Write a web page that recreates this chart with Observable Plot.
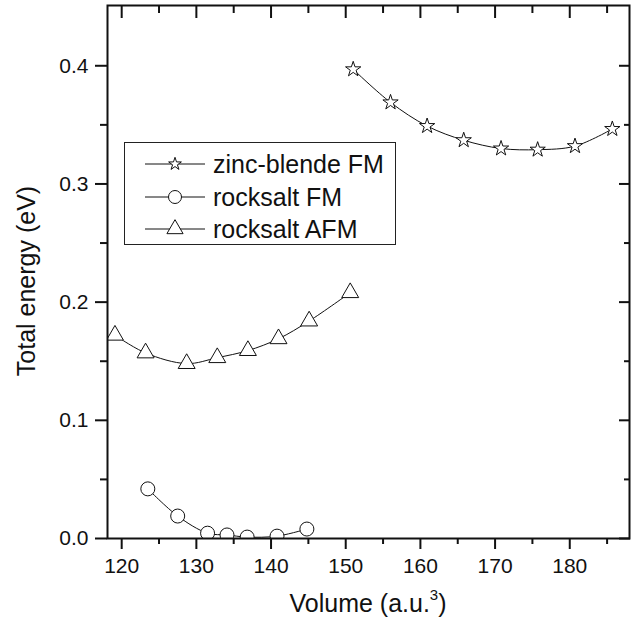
<!DOCTYPE html>
<html>
<head>
<meta charset="utf-8">
<script src="https://cdn.jsdelivr.net/npm/d3@7"></script>
<script src="https://cdn.jsdelivr.net/npm/@observablehq/plot@0.6"></script>
<style>
  html, body { margin: 0; padding: 0; background: #fff; }
  #wrap { position: relative; width: 634px; height: 621px; font-family: "Liberation Sans", Arial, Helvetica, sans-serif; }
  #legend { position: absolute; left: 124px; top: 142px; width: 270px; height: 101px; border: 1.5px solid #222; background: #fff; }
  .row { position: absolute; left: 0; height: 30px; display: flex; align-items: center; }
  .row svg { display: block; }
  .row span { font-size: 25px; color: #111; margin-left: 6px; line-height: 30px; white-space: nowrap; }
</style>
</head>
<body>
<div id="wrap"></div>
<script>
// Data
const seriesNames = ["zinc-blende FM", "rocksalt FM", "rocksalt AFM"];
const seriesSymbols = ["star", "circle", "triangle"];

const volZB = [151.0, 156.0, 160.9, 165.8, 170.8, 175.7, 180.7, 185.7];
const eZB   = [0.397, 0.369, 0.349, 0.337, 0.330, 0.329, 0.332, 0.3465];

const volRSFM = [123.5, 127.5, 131.5, 134.1, 136.8, 140.8, 144.8];
const eRSFM   = [0.042, 0.019, 0.0045, 0.003, 0.0012, 0.002, 0.008];

const volRSAFM = [119.1, 123.2, 128.7, 132.8, 136.9, 141.0, 145.1, 150.6];
const eRSAFM   = [0.172, 0.157, 0.148, 0.153, 0.159, 0.169, 0.184, 0.208];

const xMajor = [120, 130, 140, 150, 160, 170, 180];
const xMinor = [125, 135, 145, 155, 165, 175, 185];
const yMajor = [0.0, 0.1, 0.2, 0.3, 0.4];
const yMinor = [0.05, 0.15, 0.25, 0.35];

const toRows = (xs, ys) => xs.map((v, i) => ({v, e: ys[i]}));
const zb = toRows(volZB, eZB);
const rsfm = toRows(volRSFM, eRSFM);
const rsafm = toRows(volRSAFM, eRSAFM);

const line = (d) => Plot.line(d, {x: "v", y: "e", curve: "catmull-rom", stroke: "#111", strokeWidth: 1, clip: true});
const dots = (d, symbol, r) => Plot.dot(d, {x: "v", y: "e", symbol, r, fill: "white", stroke: "#111", strokeWidth: 1, clip: true});
const noText = {text: null, tickFormat: () => "", label: null, strokeWidth: 2};

const chart = Plot.plot({
  width: 634,
  height: 621,
  marginLeft: 107,
  marginRight: 5,
  marginTop: 5,
  marginBottom: 83,
  style: {fontFamily: "Liberation Sans, Arial, Helvetica, sans-serif", color: "#111", background: "white"},
  x: {domain: [118.1, 188.0], label: null},
  y: {domain: [0, 0.451], label: null},
  symbol: {type: "identity"},
  marks: [
    line(zb), line(rsfm), line(rsafm),
    dots(zb, "star", 4.8), dots(rsfm, "circle", 7), dots(rsafm, "triangle", 6.3),
    Plot.axisX({ticks: xMajor, tickSize: 11, tickPadding: 9, fontSize: 21, strokeWidth: 2, tickFormat: d3.format("d"), label: null}),
    Plot.axisX({ticks: xMinor, tickSize: 6, ...noText}),
    Plot.axisX({anchor: "top", ticks: xMajor, tickSize: -12, ...noText}),
    Plot.axisX({anchor: "top", ticks: xMinor, tickSize: -7, ...noText}),
    Plot.axisY({ticks: yMajor, tickSize: 12, tickPadding: 7, fontSize: 21, strokeWidth: 2, tickFormat: d3.format(".1f"), label: null}),
    Plot.axisY({ticks: yMinor, tickSize: 7, ...noText}),
    Plot.axisY({anchor: "right", ticks: yMajor, tickSize: -11, ...noText}),
    Plot.axisY({anchor: "right", ticks: yMinor, tickSize: -6, ...noText}),
    Plot.frame({stroke: "#111", strokeWidth: 2})
  ]
});

const wrap = document.getElementById("wrap");
wrap.appendChild(chart);

// Axis titles (real text)
const svg = d3.select(chart);
const xt = svg.append("text")
  .attr("x", 368).attr("y", 612)
  .attr("text-anchor", "middle")
  .attr("font-size", 25).attr("fill", "#111")
  .attr("font-family", "Liberation Sans, Arial, sans-serif");
xt.append("tspan").text("Volume (a.u.");
xt.append("tspan").attr("dy", -12).attr("font-size", 15).text("3");
xt.append("tspan").attr("dy", 12).text(")");

svg.append("text")
  .attr("transform", "translate(35,281) rotate(-90)")
  .attr("text-anchor", "middle")
  .attr("font-size", 25).attr("fill", "#111")
  .attr("font-family", "Liberation Sans, Arial, sans-serif")
  .text("Total energy (eV)");

// Legend
const legend = document.createElement("div");
legend.id = "legend";
const rowTops = [6, 39, 71];
seriesNames.forEach((name, i) => {
  const row = document.createElement("div");
  row.className = "row";
  row.style.top = rowTops[i] + "px";
  const ns = "http://www.w3.org/2000/svg";
  const s = document.createElementNS(ns, "svg");
  s.setAttribute("width", 82); s.setAttribute("height", 30);
  const l = document.createElementNS(ns, "line");
  l.setAttribute("x1", 20); l.setAttribute("x2", 80); l.setAttribute("y1", 15); l.setAttribute("y2", 15);
  l.setAttribute("stroke", "#111"); l.setAttribute("stroke-width", 1);
  s.appendChild(l);
  const sizes = {star: Math.PI * 4.0 * 4.0, circle: Math.PI * 6.5 * 6.5, triangle: Math.PI * 6.0 * 6.0};
  const symType = {star: d3.symbolStar, circle: d3.symbolCircle, triangle: d3.symbolTriangle}[seriesSymbols[i]];
  const p = document.createElementNS(ns, "path");
  p.setAttribute("d", d3.symbol(symType, sizes[seriesSymbols[i]])());
  p.setAttribute("transform", "translate(50,15)");
  p.setAttribute("fill", "white"); p.setAttribute("stroke", "#111"); p.setAttribute("stroke-width", 1);
  s.appendChild(p);
  row.appendChild(s);
  const t = document.createElement("span");
  t.textContent = name;
  row.appendChild(t);
  legend.appendChild(row);
});
wrap.appendChild(legend);
</script>
</body>
</html>
